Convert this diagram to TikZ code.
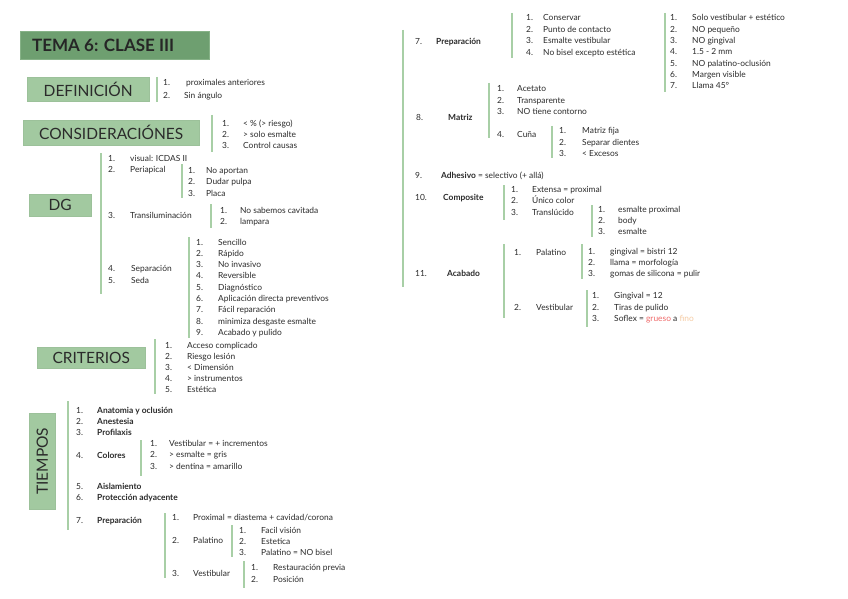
\documentclass[tikz,border=0pt]{standalone}
\usepackage{fontspec}
\setmainfont{Lato}
\definecolor{titc}{HTML}{6E9F70}
\definecolor{titb}{HTML}{86B287}
\definecolor{boxc}{HTML}{A2C9A0}
\definecolor{barc}{HTML}{A8CFA6}
\definecolor{ink}{HTML}{2B2B2B}
\definecolor{gru}{HTML}{F06A6A}
\definecolor{fin}{HTML}{F5CBA3}
\tikzset{
  txt/.style={anchor=base west,inner sep=0pt,text=ink,yshift=-3pt,font=\fontsize{8.4}{10}\selectfont},
  bartick/.style={draw=barc,line width=1.6pt},
  headbox/.style={fill=boxc,draw=boxc!90!black!40!boxc,line width=0.4pt},
  headtxt/.style={text=ink,font=\fontsize{15.5}{18}\selectfont,inner sep=0pt}
}
\newcommand\li[5]{\node[txt] at (#1,#3) {#4}; \node[txt] at (#2,#3) {#5};}
\newcommand\vb[3]{\draw[bartick] (#1,#2) -- (#1,#3);}
\begin{document}
\begin{tikzpicture}[x=1pt,y=-1pt]
\useasboundingbox[fill=white] (0,0) rectangle (848,599);
% title
\node[fill=titc,draw=titb,line width=0.8pt,minimum width=189pt,minimum height=28pt,anchor=north west,inner sep=0pt] (title) at (20,31) {};
\node[anchor=west,inner sep=0pt,font=\bfseries\fontsize{17}{20}\selectfont,text=black!85] (tt) at (32,45) {TEMA 6: CLASE III};
% DEFINICION
\node[headbox,minimum width=122pt,minimum height=24pt,anchor=north west,inner sep=0pt] (def) at (27,77) {};
\node[headtxt] at (def.center) {DEFINICIÓN};
\vb{157}{77}{102}
\li{163}{186}{83}{1.}{proximales anteriores}
\li{163}{184}{96}{2.}{Sin ángulo}
% CONSIDERACIONES
\node[headbox,minimum width=176pt,minimum height=25pt,anchor=north west,inner sep=0pt] (cons) at (23,120) {};
\node[headtxt] at (cons.center) {CONSIDERACIÓNES};
\vb{212}{115}{152}
\li{222}{243}{123}{1.}{< \% (> riesgo)}
\li{222}{243}{134.5}{2.}{> solo esmalte}
\li{222}{243}{146}{3.}{Control causas}
% DG
\node[headbox,minimum width=62pt,minimum height=22pt,anchor=north west,inner sep=0pt] (dg) at (29,194) {};
\node[headtxt] at (dg.center) {DG};
\vb{101}{153}{294}
\li{108}{130}{158}{1.}{visual: ICDAS II}
\li{108}{130}{169.5}{2.}{Periapical}
\vb{182}{164}{198}
\li{188}{206}{170}{1.}{No aportan}
\li{188}{206}{181.5}{2.}{Dudar pulpa}
\li{188}{206}{193}{3.}{Placa}
\li{108}{130}{215}{3.}{Transiluminación}
\vb{211}{204}{228}
\li{220}{240}{210}{1.}{No sabemos cavitada}
\li{220}{240}{221.5}{2.}{lampara}
\li{108}{131}{268.5}{4.}{Separación}
\li{108}{131}{280.5}{5.}{Seda}
\vb{189}{237}{338}
\li{196}{218}{242}{1.}{Sencillo}
\li{196}{218}{253.3}{2.}{Rápido}
\li{196}{218}{264.6}{3.}{No invasivo}
\li{196}{218}{275.9}{4.}{Reversible}
\li{196}{218}{287.2}{5.}{Diagnóstico}
\li{196}{218}{298.5}{6.}{Aplicación directa preventivos}
\li{196}{218}{309.8}{7.}{Fácil reparación}
\li{196}{218}{321.1}{8.}{minimiza desgaste esmalte}
\li{196}{218}{332.4}{9.}{Acabado y pulido}
% CRITERIOS
\node[headbox,minimum width=108pt,minimum height=21pt,anchor=north west,inner sep=0pt] (crit) at (37,347) {};
\node[headtxt] at (crit.center) {CRITERIOS};
\vb{155}{339}{394}
\li{165}{187}{345}{1.}{Acceso complicado}
\li{165}{187}{356}{2.}{Riesgo lesión}
\li{165}{187}{367}{3.}{< Dimensión}
\li{165}{187}{378}{4.}{> instrumentos}
\li{165}{187}{389}{5.}{Estética}
% TIEMPOS
\node[headbox,minimum width=26pt,minimum height=96pt,anchor=north west,inner sep=0pt] (tiem) at (29,413) {};
\node[headtxt,rotate=90] at (tiem.center) {TIEMPOS};
\vb{68}{401}{530}
\li{76}{97}{410}{1.}{\textbf{Anatomia y oclusión}}
\li{76}{97}{421}{2.}{\textbf{Anestesia}}
\li{76}{97}{432}{3.}{\textbf{Profilaxis}}
\li{76}{97}{455}{4.}{\textbf{Colores}}
\vb{141}{440}{476}
\li{150}{169}{443}{1.}{Vestibular =  + incrementos}
\li{150}{169}{454.5}{2.}{> esmalte  = gris}
\li{150}{169}{466}{3.}{> dentina = amarillo}
\li{76}{97}{486}{5.}{\textbf{Aislamiento}}
\li{76}{97}{497}{6.}{\textbf{Protección adyacente}}
\li{76}{97}{520}{7.}{\textbf{Preparación}}
\vb{165}{513}{578}
\li{172}{193}{517}{1.}{Proximal = diastema + cavidad/corona}
\li{172}{193}{540}{2.}{Palatino}
\vb{232}{525}{557}
\li{239}{261}{530}{1.}{Facil visión}
\li{239}{261}{541}{2.}{Estetica}
\li{239}{261}{552}{3.}{Palatino = NO bisel}
\li{172}{193}{573}{3.}{Vestibular}
\vb{244}{561}{588}
\li{251}{273}{567}{1.}{Restauración previa}
\li{251}{273}{579}{2.}{Posición}
% RIGHT COLUMN
\vb{403}{30}{287}
\li{415}{436}{42}{7.}{\textbf{Preparación}}
\vb{512}{13}{58}
\li{526}{543}{18}{1.}{Conservar}
\li{526}{543}{29.5}{2.}{Punto de contacto}
\li{526}{543}{41}{3.}{Esmalte vestibular}
\li{526}{543}{52.5}{4.}{No bisel excepto estética}
\vb{665}{13}{92}
\li{670}{692}{18}{1.}{Solo vestibular  + estético}
\li{670}{692}{29.3}{2.}{NO pequeño}
\li{670}{692}{40.6}{3.}{NO gingival}
\li{670}{692}{51.9}{4.}{1.5 - 2 mm}
\li{670}{692}{63.2}{5.}{NO palatino-oclusión}
\li{670}{692}{74.5}{6.}{Margen visible}
\li{670}{692}{85.8}{7.}{Llama 45°}
\li{416}{448}{118}{8.}{\textbf{Matriz}}
\vb{489}{83}{138}
\li{497}{517}{89}{1.}{Acetato}
\li{497}{517}{100.5}{2.}{Transparente}
\li{497}{517}{112}{3.}{NO tiene contorno}
\li{497}{517}{134}{4.}{Cuña}
\vb{552}{126}{158}
\li{559}{582}{130}{1.}{Matriz fija}
\li{559}{582}{142}{2.}{Separar dientes}
\li{559}{582}{154}{3.}{< Excesos}
\li{415}{441}{175}{9.}{\textbf{Adhesivo} = selectivo (+ allá)}
\li{415}{443}{197}{10.}{\textbf{Composite}}
\vb{504}{185}{220}
\li{511}{532}{189}{1.}{Extensa = proximal}
\li{511}{532}{200.5}{2.}{Único color}
\li{511}{532}{212}{3.}{Translúcido}
\vb{592}{205}{237}
\li{598}{618}{209}{1.}{esmalte proximal}
\li{598}{618}{220}{2.}{body}
\li{598}{618}{231}{3.}{esmalte}
\li{415}{447}{273}{11.}{\textbf{Acabado}}
\vb{504}{244}{318}
\li{514}{536}{252}{1.}{Palatino}
\li{514}{536}{307}{2.}{Vestibular}
\vb{582}{244}{279}
\li{588}{610}{251}{1.}{gingival = bistri 12}
\li{588}{610}{262}{2.}{llama = morfología}
\li{588}{610}{273}{3.}{gomas de silicona = pulir}
\vb{587}{290}{327}
\li{592}{614}{295}{1.}{Gingival =  12}
\li{592}{614}{307}{2.}{Tiras de pulido}
\li{592}{614}{318}{3.}{Soflex = \textcolor{gru}{grueso} a \textcolor{fin}{fino}}
\end{tikzpicture}
\end{document}
